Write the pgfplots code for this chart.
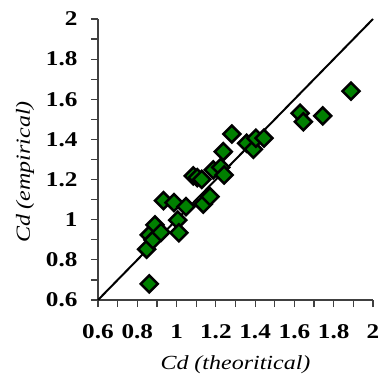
\documentclass[border=0pt]{standalone}
\usepackage{fontspec}
\setmainfont{Liberation Serif}
\usepackage{pgfplots}
\pgfplotsset{compat=1.18}
\usepackage{graphicx}
\definecolor{mkgreen}{RGB}{0,128,0}
\definecolor{axgray}{RGB}{64,64,64}
\begin{document}
\begin{tikzpicture}[x=1pt,y=1pt]
\begin{axis}[
  name=ax, at={(0,0)}, anchor=south west,
  scale only axis, width=275pt, height=281pt,
  xmin=0.6, xmax=2, ymin=0.6, ymax=2,
  axis lines=left, axis line style={-, axgray, line width=1.3pt},
  xtick={0.6,0.8,...,2.01}, ytick={0.6,0.8,...,2.01},
  minor tick num=1,
  tick align=outside, major tick length=7pt, minor tick length=7pt,
  tick style={axgray, line width=1.2pt},
  tick label style={font=\fontsize{21}{21}\selectfont\bfseries},
  xticklabel style={yshift=-14pt},
  yticklabel style={xshift=-10pt},
  xticklabel={\scalebox{1.2}[1]{\pgfmathprintnumber[assume math mode=true]{\tick}}},
  yticklabel={\scalebox{1.2}[1]{\pgfmathprintnumber[assume math mode=true]{\tick}}},
  clip=false,
]
\addplot[black, line width=2pt, forget plot] coordinates {(0.6,0.6) (2,2)};
\addplot[only marks, mark=square*, mark size=6pt,
  mark options={rotate=45, fill=mkgreen, draw=black, line width=2.5pt}]
  coordinates {
(0.861,0.680) (0.848,0.853) (0.861,0.924) (0.880,0.899) (0.890,0.974)
(0.921,0.937) (1.006,0.998) (1.012,0.935) (0.933,1.095) (0.987,1.085)
(1.048,1.065) (1.136,1.078) (1.170,1.115) (1.085,1.218) (1.105,1.210)
(1.128,1.201) (1.187,1.248) (1.225,1.261) (1.242,1.223) (1.238,1.339)
(1.281,1.427) (1.357,1.381) (1.391,1.351) (1.404,1.406) (1.445,1.406)
(1.629,1.530) (1.645,1.488) (1.744,1.517) (1.888,1.641)
};
\end{axis}
\node[font=\fontsize{20}{20}\selectfont\itshape] at (137.5pt,-65pt) {\scalebox{1.2}[1]{Cd (theoritical)}};
\node[font=\fontsize{20}{20}\selectfont\itshape, rotate=90] at (-73pt,128pt) {\scalebox{1.2}[1]{Cd (empirical)}};
\pgfresetboundingbox
\path[use as bounding box] (-98pt,-78pt) rectangle (284pt,300pt);
\end{tikzpicture}
\end{document}
